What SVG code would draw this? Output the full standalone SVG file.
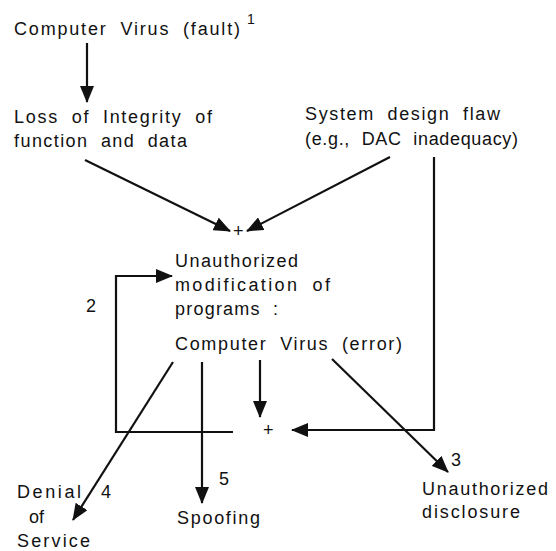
<svg xmlns="http://www.w3.org/2000/svg" width="556" height="551" viewBox="0 0 556 551">
<defs>
<style>
text{font-family:"Liberation Sans",Arial,sans-serif;font-size:18px;fill:#111;word-spacing:6px}
.num{font-size:18px}
.plus{font-size:18px}
.c{fill:none;stroke:#111;stroke-width:2.2}
</style>
<marker id="ah" markerUnits="userSpaceOnUse" markerWidth="18" markerHeight="14" refX="16" refY="7" orient="auto">
<path d="M0,0 L17,7 L0,14 Z" fill="#111"/>
</marker>
</defs>
<rect width="556" height="551" fill="#fff"/>
<g id="connectors">
<line class="c" x1="87" y1="43" x2="87" y2="102" marker-end="url(#ah)"/>
<line class="c" x1="85" y1="160" x2="230" y2="231" marker-end="url(#ah)"/>
<line class="c" x1="390" y1="157" x2="247" y2="231" marker-end="url(#ah)"/>
<polyline class="c" points="434,157 434,430 292,430" marker-end="url(#ah)"/>
<polyline class="c" points="233,432 116,432 116,276 172,276" marker-end="url(#ah)"/>
<line class="c" x1="260" y1="360" x2="260" y2="417" marker-end="url(#ah)"/>
<line class="c" x1="173" y1="362" x2="73" y2="520" marker-end="url(#ah)"/>
<line class="c" x1="202" y1="362" x2="202" y2="503" marker-end="url(#ah)"/>
<line class="c" x1="332" y1="359" x2="448" y2="472" marker-end="url(#ah)"/>
<text class="plus" x="233" y="237">+</text>
<text class="plus" x="263" y="436">+</text>
<text class="num" x="86" y="312">2</text>
<text class="num" x="451" y="466">3</text>
<text class="num" x="101" y="498">4</text>
<text class="num" x="219" y="485">5</text>
</g>
<g id="fault">
<text x="14" y="35" textLength="226" lengthAdjust="spacing">Computer Virus (fault)</text>
<text x="247" y="24" style="font-size:14px">1</text>
</g>
<g id="integrity">
<text x="14" y="123" textLength="198" lengthAdjust="spacing">Loss of Integrity of</text>
<text x="14" y="147" textLength="173" lengthAdjust="spacing">function and data</text>
</g>
<g id="flaw">
<text x="305" y="120" textLength="195" lengthAdjust="spacing">System design flaw</text>
<text x="305" y="145" textLength="213" lengthAdjust="spacing">(e.g., DAC inadequacy)</text>
</g>
<g id="modification">
<text x="175" y="267" textLength="123" lengthAdjust="spacing">Unauthorized</text>
<text x="175" y="291" textLength="155" lengthAdjust="spacing">modification of</text>
<text x="175" y="315" textLength="103" lengthAdjust="spacing">programs :</text>
<text x="175" y="350" textLength="227" lengthAdjust="spacing">Computer Virus (error)</text>
</g>
<g id="denial">
<text x="17" y="498" textLength="64" lengthAdjust="spacing">Denial</text>
<text x="29" y="523">of</text>
<text x="17" y="547" textLength="73" lengthAdjust="spacing">Service</text>
</g>
<g id="spoofing">
<text x="177" y="524" textLength="83" lengthAdjust="spacing">Spoofing</text>
</g>
<g id="disclosure">
<text x="422" y="495" textLength="126" lengthAdjust="spacing">Unauthorized</text>
<text x="422" y="518" textLength="98" lengthAdjust="spacing">disclosure</text>
</g>
</svg>
